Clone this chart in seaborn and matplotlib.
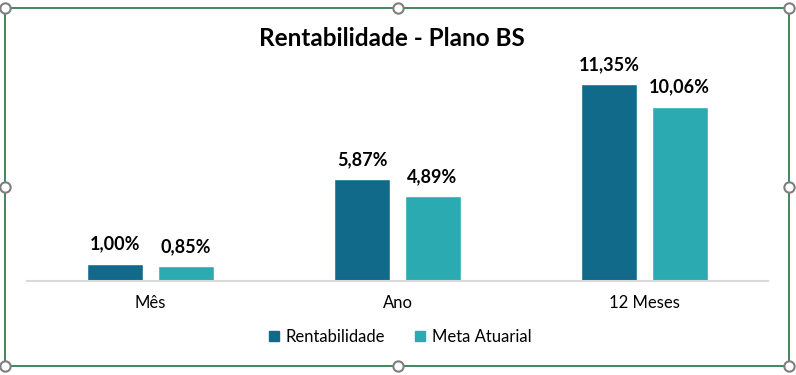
import matplotlib.pyplot as plt
import seaborn as sns
import pandas as pd

categorias = ['Mês', 'Ano', '12 Meses']
rentabilidade = [1.00, 5.87, 11.35]
meta_atuarial = [0.85, 4.89, 10.06]
series = ['Rentabilidade', 'Meta Atuarial']
cores = ['#126A8A', '#2BABB1']

df = pd.DataFrame({
    'categoria': categorias * 2,
    'valor': rentabilidade + meta_atuarial,
    'serie': [series[0]] * 3 + [series[1]] * 3,
})

sns.set_style('white')
plt.rcParams['font.family'] = ['Lato', 'DejaVu Sans']

W, H = 796, 375
fig = plt.figure(figsize=(W / 100, H / 100), dpi=100)

# plot area in pixel coords: x 27..768, baseline y=281
left, right, base, top = 27, 768, 281, 73
ax = fig.add_axes([left / W, 1 - base / H, (right - left) / W, (base - top) / H])
sns.barplot(data=df, x='categoria', y='valor', hue='serie', palette=cores,
            width=0.567, gap=0.2, ax=ax, legend=False, saturation=1)
ax.set_xlim(-0.5, 2.5)
ax.set_ylim(0, 12)
ax.set_xlabel('')
ax.set_ylabel('')
ax.set_yticks([])
for s in ['left', 'right', 'top']:
    ax.spines[s].set_visible(False)
ax.spines['bottom'].set_color('#d9d9d9')
ax.spines['bottom'].set_linewidth(1.5)
ax.tick_params(axis='x', length=0, pad=10, labelsize=12, colors='black')

for cont in ax.containers:
    labels = [f'{v:.2f}%'.replace('.', ',') for v in cont.datavalues]
    ax.bar_label(cont, labels=labels, padding=8, fontsize=13,
                 fontweight='bold', color='black')

fig.text(392 / W, 1 - 38 / H, 'Rentabilidade - Plano BS', ha='center',
         va='center', fontsize=17.5, fontweight='bold', color='black')

handles = [plt.Rectangle((0, 0), 1, 1, color=c) for c in cores]
fig.legend(handles, series, loc='center', bbox_to_anchor=(400 / W, 1 - 337 / H),
           ncol=2, frameon=False, handlelength=0.6, handleheight=0.6,
           handletextpad=0.4, columnspacing=1.8, fontsize=12,
           labelcolor='black')

# chart frame with selection handles (Excel screenshot look)
ov = fig.add_axes([0, 0, 1, 1], zorder=5)
ov.set_xlim(0, W)
ov.set_ylim(H, 0)
ov.axis('off')
ov.patch.set_alpha(0)
x0, x1, y0, y1 = 5, 789, 8, 366
ov.plot([x0, x1, x1, x0, x0], [y0, y0, y1, y1, y0], color='#217346', lw=1.2)
xm, ym = 398, 187
hx = [x0, xm, x1, x0, x1, x0, xm, x1]
hy = [y0, y0, y0, ym, ym, y1, y1, y1]
ov.scatter(hx, hy, s=55, facecolor='white', edgecolor='#7f7f7f', linewidth=1.5, zorder=6)

fig.savefig('out.png', dpi=100)
